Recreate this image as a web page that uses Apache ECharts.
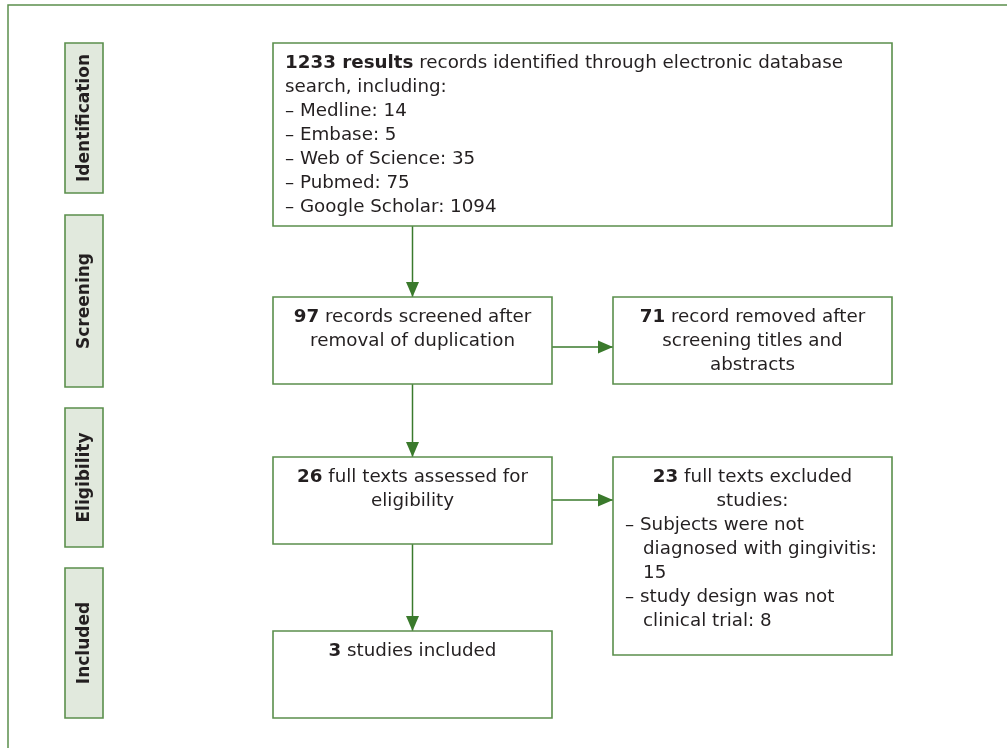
<!DOCTYPE html>
<html>
<head>
<meta charset="utf-8">
<title>PRISMA flow</title>
<script src="https://cdn.jsdelivr.net/npm/echarts@6/dist/echarts.min.js"></script>
<style>
html, body { margin: 0; padding: 0; background: #fff; }
#main { width: 1007px; height: 748px; }
</style>
</head>
<body>
<div id="main"></div>
<script>
// ---- content ----
var stages = ['Identification', 'Screening', 'Eligibility', 'Included'];
var sources = ['Medline', 'Embase', 'Web of Science', 'Pubmed', 'Google Scholar'];
var sourceCounts = [14, 5, 35, 75, 1094];
var totalFound = 1233;
var screened = 97;
var removed = 71;
var assessed = 26;
var excluded = 23;
var reasons = ['Subjects were not diagnosed with gingivitis', 'study design was not clinical trial'];
var reasonCounts = [15, 8];
var included = 3;

// ---- layout (diagram units = pixels of the 1007x748 page) ----
var stageCol = [65, 103];
var stageRows = [[43, 193], [215, 387], [408, 547], [568, 718]];
var boxRects = {
    found:    [273, 43, 892, 226],
    screened: [273, 297, 552, 384],
    removed:  [613, 297, 892, 384],
    assessed: [273, 457, 552, 544],
    excluded: [613, 457, 892, 655],
    included: [273, 631, 552, 718]
};
var links = [
    ['found', 'screened', 'down'],
    ['screened', 'removed', 'right'],
    ['screened', 'assessed', 'down'],
    ['assessed', 'excluded', 'right'],
    ['assessed', 'included', 'down']
];
var rightArrowY = { screened: 347, assessed: 500 };

var GREEN = '#5b8f4c';
var ARROW = '#3a7a2c';
var FILL = '#e1e9dd';
var TEXT = '#231f20';
var FONT = 'DejaVu Sans, Verdana, sans-serif';
var FS = 18.3;
var LH = 24;

// text of each box: [line, align, indent]
var boxText = {
    found: [['{b|' + totalFound + ' results} records identified through electronic database', 'left', 0],
            ['search, including:', 'left', 0]].concat(sources.map(function (s, i) {
                return ['– ' + s + ': ' + sourceCounts[i], 'left', 0];
            })),
    screened: [['{b|' + screened + '} records screened after', 'center'],
               ['removal of duplication', 'center']],
    removed: [['{b|' + removed + '} record removed after', 'center'],
              ['screening titles and', 'center'],
              ['abstracts', 'center']],
    assessed: [['{b|' + assessed + '} full texts assessed for', 'center'],
               ['eligibility', 'center']],
    excluded: [['{b|' + excluded + '} full texts excluded', 'center'],
               ['studies:', 'center'],
               ['– Subjects were not', 'left', 0],
               ['diagnosed with gingivitis:', 'left', 18],
               [String(reasonCounts[0]), 'left', 18],
               ['– study design was not', 'left', 0],
               ['clinical trial: ' + reasonCounts[1], 'left', 18]],
    included: [['{b|' + included + '} studies included', 'center']]
};
var boxKeys = Object.keys(boxRects);

var richStyle = {
    b: { fontWeight: 'bold', fontSize: FS, fontFamily: FONT, fill: TEXT }
};

function renderBox(params, api) {
    var key = boxKeys[api.value(0)];
    var r = boxRects[key];
    var p0 = api.coord([r[0], r[1]]);
    var p1 = api.coord([r[2], r[3]]);
    var children = [{
        type: 'rect',
        shape: { x: p0[0], y: p0[1], width: p1[0] - p0[0], height: p1[1] - p0[1] },
        style: { fill: '#fff', stroke: GREEN, lineWidth: 1.6 }
    }];
    boxText[key].forEach(function (ln, i) {
        var x = ln[1] === 'center' ? (p0[0] + p1[0]) / 2 : p0[0] + 12 + (ln[2] || 0);
        children.push({
            type: 'text',
            style: {
                text: ln[0], x: x, y: p0[1] + 20 + i * LH,
                align: ln[1], verticalAlign: 'middle',
                fontSize: FS, fontFamily: FONT, fill: TEXT,
                rich: richStyle
            }
        });
    });
    return { type: 'group', children: children };
}

function renderStage(params, api) {
    var i = api.value(0);
    var p0 = api.coord([stageCol[0], stageRows[i][0]]);
    var p1 = api.coord([stageCol[1], stageRows[i][1]]);
    return {
        type: 'group',
        children: [{
            type: 'rect',
            shape: { x: p0[0], y: p0[1], width: p1[0] - p0[0], height: p1[1] - p0[1] },
            style: { fill: FILL, stroke: GREEN, lineWidth: 1.6 }
        }, {
            type: 'text',
            x: (p0[0] + p1[0]) / 2 + 1, y: (p0[1] + p1[1]) / 2,
            rotation: Math.PI / 2,
            style: {
                text: stages[i], x: 0, y: 0, align: 'center', verticalAlign: 'middle',
                fontSize: 17, fontWeight: 'bold', fontFamily: FONT, fill: TEXT
            }
        }]
    };
}

function renderLink(params, api) {
    var l = links[api.value(0)];
    var a = boxRects[l[0]], b = boxRects[l[1]];
    var s, e;
    if (l[2] === 'down') {
        var cx = (b[0] + b[2]) / 2;
        s = api.coord([cx, a[3]]);
        e = api.coord([cx, b[1]]);
    } else {
        var y = rightArrowY[l[0]];
        s = api.coord([a[2], y]);
        e = api.coord([b[0], y]);
    }
    var hl = 15, hw = 6.5, head;
    if (l[2] === 'down') {
        head = [[e[0] - hw, e[1] - hl], [e[0] + hw, e[1] - hl], [e[0], e[1]]];
    } else {
        head = [[e[0] - hl, e[1] - hw], [e[0] - hl, e[1] + hw], [e[0], e[1]]];
    }
    return {
        type: 'group',
        children: [{
            type: 'line',
            shape: { x1: s[0], y1: s[1], x2: e[0], y2: e[1] },
            style: { stroke: ARROW, lineWidth: 1.5 }
        }, {
            type: 'polygon',
            shape: { points: head },
            style: { fill: ARROW }
        }]
    };
}

function renderFrame(params, api) {
    var p0 = api.coord([8, 5]);
    var p1 = api.coord([1020, 760]);
    return {
        type: 'rect',
        shape: { x: p0[0], y: p0[1], width: p1[0] - p0[0], height: p1[1] - p0[1] },
        style: { fill: 'none', stroke: GREEN, lineWidth: 1.5 }
    };
}

var chart = echarts.init(document.getElementById('main'), null, { renderer: 'canvas' });
chart.setOption({
    animation: false,
    backgroundColor: '#fff',
    grid: { left: 0, right: 0, top: 0, bottom: 0 },
    xAxis: { type: 'value', min: 0, max: 1007, show: false },
    yAxis: { type: 'value', min: 0, max: 748, inverse: true, show: false },
    series: [
        { type: 'custom', name: 'frame', renderItem: renderFrame, data: [[0]], silent: true, clip: false },
        { type: 'custom', name: 'stages', renderItem: renderStage, data: stages.map(function (s, i) { return [i]; }), silent: true },
        { type: 'custom', name: 'links', renderItem: renderLink, data: links.map(function (l, i) { return [i]; }), silent: true },
        { type: 'custom', name: 'boxes', renderItem: renderBox, data: boxKeys.map(function (k, i) { return [i]; }), silent: true }
    ]
});
</script>
</body>
</html>
